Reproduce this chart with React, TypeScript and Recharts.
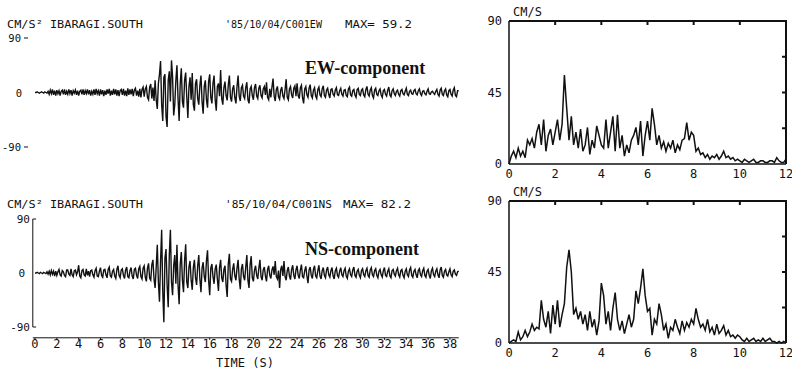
import { LineChart, Line, XAxis, YAxis, ReferenceLine } from 'recharts';

// acceleration traces, every 0.1 s (cm/s^2)
const DT = 0.1;

// one row per second
const ewAccel = [
  0, 0, 1, 0, -1, 0, 1, 0, -1, 1,
  0, -1, 2, -3, 4, -2, 5, -4, 3, -5,
  4, -2, 3, -5, 2, 4, -3, 5, -4, 2,
  -3, 5, -2, 4, -5, 3, -1, 4, -4, 3,
  -5, 2, 4, -3, 5, -4, 3, -2, 5, -3,
  4, -5, 2, -3, 5, -4, 6, -2, 3, -5,
  5, -3, 4, -6, 3, -4, 5, -2, 6, -5,
  3, -4, 6, -3, 5, -5, 4, -6, 3, 5,
  -4, 6, -5, 3, -6, 7, -4, 5, -3, 6,
  -6, 4, 7, -5, 3, -7, 6, -8, 5, 9,
  -7, 6, 10, -8, -12, 9, 14, -10, 8, -14,
  20, -12, -27, 15, 30, 52, -20, -47, 25, 30,
  -40, -57, 20, 35, -15, 53, 25, -38, -20, 20,
  45, -10, -47, 15, 40, -15, -25, 20, 33, -8,
  -42, 10, 25, -12, 32, -20, -30, 15, 22, -10,
  -20, 12, 28, -15, -35, 10, 20, -12, -25, 18,
  30, -8, -18, 15, 28, -12, -30, 10, 15, -6,
  37, -10, -20, 8, 18, -5, -13, 12, 28, -8,
  -15, 6, 12, -9, -18, 10, 28, -6, -14, 8,
  12, -6, -10, 8, 17, -12, -18, 6, 10, -5,
  -12, 8, 14, -6, -10, 7, 12, -5, -9, 6,
  10, -4, 17, -8, -12, 6, -8, 9, 23, -6,
  -14, 5, 10, -7, -11, 4, 9, -6, -10, 5,
  22, -8, -12, 6, 10, -4, -9, 7, 11, -6,
  15, -5, -10, 8, 12, -9, -18, 6, 10, -4,
  -8, 7, 13, -5, -9, 4, 8, -6, -10, 5,
  9, -4, -7, 6, 11, -5, -8, 4, 7, -3,
  -9, 5, 6, -3, -6, 4, 8, -4, -5, 3,
  7, -3, -6, 4, 5, -5, -7, 6, 9, -4,
  -6, 3, 5, -4, -8, 5, 7, -3, -5, 4,
  6, -4, -7, 5, 10, -3, -6, 4, 8, -5,
  -9, 4, 7, -3, -5, 3, 6, -4, -8, 3,
  5, -3, -6, 4, 9, -4, -7, 3, 6, -2,
  -5, 2, 4, -3, -6, 3, 5, -2, -4, 2,
  7, -3, -5, 2, 4, -2, -3, 3, 5, -2,
  -4, 3, 6, -2, -5, 2, 3, -2, -4, 2,
  6, -2, -3, 1, 2, -1, -3, 2, 5, -3,
  -6, 4, 7, -3, -5, 3, 6, -4, -7, 3,
  5, -3, -6, 4, 8, -5, -7, 3, 3,
];

const nsAccel = [
  0, 0, 1, 0, -1, 1, 0, -1, 1, 0,
  -1, 2, -2, 3, -3, 4, -2, 3, -5, 3,
  -4, 2, 6, -3, -5, 4, 2, -4, -6, 5,
  5, -2, -4, 7, -3, -6, 4, 5, -3, 2,
  13, -5, -8, 4, 6, -3, -5, 7, -4, 3,
  -6, 4, 5, -3, -7, 4, 8, -5, -6, 3,
  9, -4, -7, 5, 6, -3, -8, 6, 10, -5,
  -7, 3, 6, -5, -9, 6, 12, -4, -8, 5,
  7, -4, -9, 5, 10, -6, -8, 4, 9, -5,
  -10, 6, 8, -4, -9, 7, 11, -6, -10, 8,
  12, -7, -14, 8, 16, -9, -12, 14, 22, -10,
  -25, 10, 47, -15, -48, 20, 72, -30, -82, 25,
  40, -20, -57, 30, 72, -15, -37, 12, 30, -18,
  47, -20, -52, 15, 35, -12, -32, 20, 48, -15,
  -25, 10, 20, -12, -28, 9, 22, -8, -20, 12,
  30, -10, -32, 8, 18, -6, -15, 20, 38, -12,
  -37, 8, 15, -6, -18, 7, 14, -10, -30, 9,
  22, -8, -15, 6, 12, -20, -40, 15, 32, -10,
  -14, 6, 16, -5, -12, 8, 22, -10, -27, 7,
  15, -6, -12, 10, 30, -12, -25, 14, 28, -8,
  -14, 5, 12, -4, -10, 8, 22, -6, -12, 5,
  10, -5, -14, 6, 12, -4, -9, 5, 11, -3,
  20, -6, -10, 4, -25, 6, 12, -5, 20, -6,
  -12, 4, 10, -5, -11, 6, 13, -4, -10, 5,
  12, -4, -9, 5, 14, -6, -8, 4, 11, -5,
  -17, 5, 10, -4, -9, 6, 12, -5, -8, 4,
  13, -5, -10, 4, 9, -4, -8, 5, 10, -3,
  -7, 4, 9, -5, -10, 4, 8, -4, -7, 3,
  9, -3, -6, 4, 8, -5, -9, 3, 7, -3,
  -6, 5, 10, -4, -7, 3, 6, -4, -8, 4,
  7, -3, -6, 4, 8, -4, -7, 5, 9, -3,
  -6, 4, 7, -4, -8, 3, 6, -3, -7, 4,
  9, -4, -6, 3, 7, -5, -8, 4, 6, -2,
  -5, 4, 8, -3, -7, 4, 6, -4, -8, 3,
  7, -3, -6, 5, 9, -4, -7, 3, 6, -3,
  -8, 4, 7, -3, -6, 4, 8, -4, -7, 3,
  6, -4, -9, 4, 8, -3, -6, 3, 7, -3,
  -8, 5, 10, -4, -7, 3, 6, -3, -5, 2,
  7, -3, -6, 3, 5, -2, -4, 2, 3,
];

const timeTicks = [0, 2, 4, 6, 8, 10, 12, 14, 16, 18, 20, 22, 24, 26, 28, 30, 32, 34, 36, 38];
const accelTicks = [-90, 0, 90];

// velocity spectra, every 0.1 s of period (cm/s)
const PERIOD_STEP = 0.1;

const ewSpectrum = [
  0, 5, 8, 4, 10, 5, 8, 4, 15, 12,
  16, 10, 20, 25, 12, 28, 8, 18, 22, 12,
  20, 28, 15, 25, 56, 35, 15, 30, 12, 20,
  10, 22, 8, 12, 23, 6, 15, 10, 24, 18,
  12, 10, 28, 10, 20, 30, 8, 31, 10, 18,
  5, 12, 7, 15, 18, 23, 12, 27, 5, 18,
  27, 15, 35, 25, 12, 18, 10, 14, 8, 13,
  10, 15, 7, 12, 9, 15, 16, 26, 15, 20,
  18, 8, 10, 6, 7, 4, 6, 3, 5, 4,
  6, 3, 5, 8, 4, 5, 3, 4, 2, 3,
  2, 1, 3, 2, 1, 2, 3, 1, 1, 2,
  2, 1, 1, 2, 2, 1, 4, 2, 1, 1,
  3,
];

const nsSpectrum = [
  0, 1, 2, 1, 7, 2, 4, 8, 4, 7,
  12, 8, 10, 9, 27, 15, 10, 20, 6, 24,
  12, 27, 10, 18, 25, 48, 59, 45, 18, 22,
  15, 20, 12, 18, 8, 20, 10, 15, 5, 14,
  38, 30, 12, 20, 8, 22, 32, 15, 8, 14,
  6, 12, 18, 10, 15, 33, 25, 35, 47, 30,
  20, 22, 5, 15, 12, 25, 18, 8, 12, 3,
  10, 8, 15, 10, 6, 14, 8, 13, 10, 15,
  12, 22, 15, 10, 12, 8, 15, 7, 10, 5,
  12, 6, 8, 11, 5, 8, 4, 5, 3, 5,
  4, 2, 1, 3, 1, 2, 3, 1, 2, 1,
  3, 1, 2, 3, 1, 1, 0, 1, 0, 1,
  0,
];

const periodTicks = [0, 2, 4, 6, 8, 10, 12];
const velTicks = [0, 45, 90];
const velMinorTicks = [22.5, 45, 67.5];

const traceData = ewAccel.map((v, i) => ({ t: Math.round(i * DT * 10) / 10, ew: v, ns: nsAccel[i] }));
const spectrumData = ewSpectrum.map((v, i) => ({
  period: Math.round(i * PERIOD_STEP * 10) / 10,
  ew: v,
  ns: nsSpectrum[i],
}));

const INK = '#111';
const MONO = '"DejaVu Sans Mono", "Liberation Mono", monospace';
const SERIF = '"Liberation Serif", "DejaVu Serif", serif';

const monoTick = { fontSize: 12, fontFamily: MONO, fill: INK };

// plot boxes of the two spectra on the page
const SPEC_LEFT = 509;
const SPEC_RIGHT = 786;
const specBoxes = [
  { top: 21, bottom: 164 },
  { top: 201, bottom: 343 },
];

function EwTick(props: any) {
  const { y, payload } = props;
  const v = payload.value;
  return (
    <g>
      <text x={v === 0 ? 22 : 21} y={y} dy={4} textAnchor="end" fontSize={10.5} fontFamily={MONO} fill={INK}>
        {v}
      </text>
      {v !== 0 && <line x1={24} x2={28} y1={y} y2={y} stroke={INK} strokeWidth={1} />}
    </g>
  );
}

function NsTick(props: any) {
  const { y, payload } = props;
  const v = payload.value;
  return (
    <text x={v === 0 ? 25 : 30} y={y} dy={4} textAnchor="end" fontSize={11} fontFamily={MONO} fill={INK}>
      {v}
    </text>
  );
}

function SpectrumChart({ series, height, bottom }: { series: string; height: number; bottom: number }) {
  return (
    <LineChart width={312} height={height} data={spectrumData} margin={{ top: 21, right: 6, bottom, left: 0 }}>
      <XAxis
        dataKey="period"
        type="number"
        domain={[0, 12]}
        ticks={periodTicks}
        height={16}
        stroke={INK}
        strokeWidth={1.5}
        tickLine={false}
        tickSize={4}
        tickMargin={1}
        tick={monoTick}
      />
      <YAxis
        type="number"
        domain={[0, 90]}
        ticks={velTicks}
        width={29}
        stroke={INK}
        strokeWidth={1.5}
        tickLine={false}
        tickSize={0}
        tickMargin={7}
        tick={monoTick}
      />
      <Line dataKey={series} type="linear" stroke={INK} strokeWidth={1.5} dot={false} isAnimationActive={false} />
    </LineChart>
  );
}

export default function App() {
  return (
    <div style={{ position: 'absolute', left: 0, top: 0, width: 792, height: 369, background: '#fff', overflow: 'hidden' }}>
      <div style={{ position: 'absolute', left: 0, top: 0 }}>
        <LineChart width={470} height={160} data={traceData} margin={{ top: 38, right: 11.3, bottom: 13, left: 0 }}>
          <XAxis dataKey="t" type="number" domain={[-0.2, 38.8]} hide />
          <YAxis
            type="number"
            domain={[-90, 90]}
            ticks={accelTicks}
            interval={0}
            width={32.8}
            axisLine={false}
            tickLine={false}
            tick={(p: any) => <EwTick {...p} />}
          />
          <Line dataKey="ew" type="linear" stroke={INK} strokeWidth={1.4} dot={false} isAnimationActive={false} />
        </LineChart>
      </div>

      <div style={{ position: 'absolute', left: 0, top: 180 }}>
        <LineChart width={470} height={189} data={traceData} margin={{ top: 39, right: 11.3, bottom: 13.2, left: 0 }}>
          <XAxis
            dataKey="t"
            type="number"
            domain={[-0.2, 38.8]}
            ticks={timeTicks}
            interval={0}
            height={18}
            stroke={INK}
            tickSize={2}
            tickMargin={0}
            tick={monoTick}
          />
          <YAxis
            type="number"
            domain={[-108, 90]}
            ticks={accelTicks}
            interval={0}
            width={32.8}
            axisLine={false}
            tickLine={false}
            tick={(p: any) => <NsTick {...p} />}
          />
          <ReferenceLine segment={[{ x: -0.2, y: 90 }, { x: -0.2, y: -90 }]} stroke={INK} strokeWidth={1} />
          <ReferenceLine segment={[{ x: -0.2, y: 90 }, { x: 0.1, y: 90 }]} stroke={INK} strokeWidth={1} />
          <ReferenceLine segment={[{ x: -0.2, y: -90 }, { x: 0.1, y: -90 }]} stroke={INK} strokeWidth={1} />
          <Line dataKey="ns" type="linear" stroke={INK} strokeWidth={1.4} dot={false} isAnimationActive={false} />
        </LineChart>
      </div>

      <div style={{ position: 'absolute', left: 480, top: 0 }}>
        <SpectrumChart series="ew" height={180} bottom={0} />
      </div>
      <div style={{ position: 'absolute', left: 480, top: 180 }}>
        <SpectrumChart series="ns" height={189} bottom={10} />
      </div>

      <svg width={792} height={369} style={{ position: 'absolute', left: 0, top: 0, pointerEvents: 'none' }}>
        {/* top and right edges of the spectrum boxes, with their short inward ticks */}
        {specBoxes.map((b, k) => {
          const xAt = (p: number) => SPEC_LEFT + ((SPEC_RIGHT - SPEC_LEFT) * p) / 12;
          const yAt = (v: number) => b.bottom - ((b.bottom - b.top) * v) / 90;
          return (
            <g key={k} stroke={INK} strokeWidth={2} fill="none">
              <path d={`M${SPEC_LEFT} ${b.top} H${SPEC_RIGHT} V${b.bottom}`} />
              {periodTicks.slice(1, -1).map((p) => (
                <line key={'t' + p} x1={xAt(p)} x2={xAt(p)} y1={b.top} y2={b.top + 4} />
              ))}
              {velMinorTicks.map((v) => (
                <line key={'r' + v} x1={SPEC_RIGHT - 4} x2={SPEC_RIGHT} y1={yAt(v)} y2={yAt(v)} />
              ))}
            </g>
          );
        })}
        <g fontFamily={MONO} fontSize={11} fill={INK}>
          <text x={7} y={28} textLength={136} lengthAdjust="spacingAndGlyphs">CM/S² IBARAGI.SOUTH</text>
          <text x={225} y={28} textLength={97} lengthAdjust="spacingAndGlyphs">'85/10/04/C001EW</text>
          <text x={345} y={28} textLength={67} lengthAdjust="spacingAndGlyphs">MAX= 59.2</text>
          <text x={7} y={208} textLength={136} lengthAdjust="spacingAndGlyphs">CM/S² IBARAGI.SOUTH</text>
          <text x={225} y={208} textLength={107} lengthAdjust="spacingAndGlyphs">'85/10/04/C001NS</text>
          <text x={343} y={208} textLength={68} lengthAdjust="spacingAndGlyphs">MAX= 82.2</text>
          <text x={245} y={367} fontSize={12} textAnchor="middle">TIME (S)</text>
          <text x={513} y={16} fontSize={12}>CM/S</text>
          <text x={513} y={196} fontSize={12}>CM/S</text>
        </g>
        <g fontFamily={SERIF} fontSize={18} fontWeight="bold" fill={INK}>
          <text x={305} y={74}>EW-component</text>
          <text x={305} y={255}>NS-component</text>
        </g>
      </svg>
    </div>
  );
}
